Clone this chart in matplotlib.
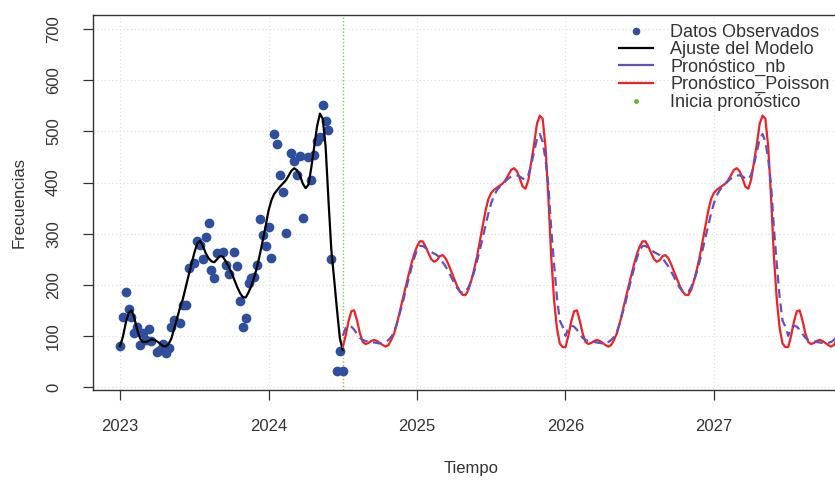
import numpy as np
import matplotlib
matplotlib.use("Agg")
import matplotlib.pyplot as plt

plt.rcParams["font.family"] = ["Liberation Sans", "DejaVu Sans"]

# semanas desde inicio de 2023 (frecuencia 52) y conteos observados
semanas_obs = [0, 1, 2, 3, 4, 5, 6, 7, 8, 9, 10, 11, 13, 14, 15, 16, 17, 18, 19,
               21, 22, 23, 24, 26, 27, 28, 29, 30, 31, 32, 33, 34, 36, 37, 38,
               40, 41, 42, 43, 44, 45, 46, 47, 48, 49, 50, 51, 52, 53, 54, 55,
               56, 57, 58, 60, 61, 62, 63, 64, 66, 67, 68, 69, 70, 71, 72, 73,
               74, 76, 77, 78]
frec_obs = [80, 136, 185, 152, 136, 105, 118, 83, 105, 92, 114, 89, 69, 72, 85,
            66, 76, 118, 131, 125, 161, 161, 232, 242, 285, 278, 251, 293, 320,
            229, 213, 262, 264, 239, 221, 264, 236, 169, 118, 134, 203, 213,
            216, 238, 329, 298, 275, 314, 252, 495, 476, 414, 382, 302, 457,
            443, 415, 452, 331, 450, 405, 454, 482, 489, 552, 521, 502, 251,
            32, 71, 32]

# ajuste del modelo, semanas 0..78
ajuste = [80, 98, 125, 145, 150, 135, 112, 95, 88, 88, 90, 93, 92, 89, 85, 80,
          79, 84, 95, 115, 135, 155, 172, 195, 218, 240, 262, 280, 286, 276,
          262, 252, 246, 244, 250, 256, 255, 246, 236, 224, 210, 196, 184, 176,
          175, 185, 198, 215, 235, 260, 287, 315, 345, 365, 378, 385, 392, 398,
          404, 413, 423, 428, 424, 414, 398, 389, 396, 430, 470, 510, 535, 525,
          470, 365, 268, 210, 150, 95, 72]

# un ciclo (78 semanas) de cada pronostico; se repite en 2026 y 2027.5
ciclo_poisson = [78, 100, 128, 148, 150, 130, 105, 88, 84, 86, 90, 92, 90, 86,
                 82, 79, 82, 92, 105, 125, 148, 172, 195, 218, 240, 260, 275,
                 285, 285, 275, 262, 250, 245, 248, 256, 258, 252, 240, 226,
                 212, 198, 187, 180, 180, 190, 208, 230, 255, 285, 315, 345,
                 368, 380, 386, 390, 394, 398, 405, 415, 425, 428, 422, 408,
                 392, 388, 405, 440, 475, 515, 531, 525, 470, 370, 255, 170,
                 115, 85, 78]
ciclo_nb = [100, 115, 120, 118, 112, 104, 96, 92, 90, 89, 88, 87, 86, 85, 86,
            88, 92, 98, 108, 125, 145, 165, 188, 210, 232, 252, 268, 276, 276,
            272, 268, 264, 261, 258, 252, 244, 236, 226, 215, 204, 194, 187,
            184, 186, 195, 208, 225, 246, 268, 292, 316, 340, 360, 375, 385,
            392, 398, 403, 408, 412, 414, 414, 412, 408, 406, 415, 435, 460,
            485, 495, 480, 445, 395, 310, 240, 175, 130, 118]
n_ciclos = 3
inicio_pron = 78  # semana en que inicia el pronostico

anio0 = 2023
t_obs = anio0 + np.array(semanas_obs) / 52
t_aj = anio0 + np.arange(len(ajuste)) / 52
pron_poisson = np.tile(ciclo_poisson, n_ciclos)
pron_nb = np.tile(ciclo_nb, n_ciclos)
t_pron = anio0 + (inicio_pron + np.arange(len(pron_poisson))) / 52
t_inicio = anio0 + inicio_pron / 52

fig = plt.figure(figsize=(8.35, 4.8), dpi=100)
ax = fig.add_axes([93 / 835, 90 / 480, 757 / 835, 375 / 480])

for y in range(0, 701, 100):
    ax.axhline(y, color="#e0e0e0", lw=0.9, ls=(0, (1, 2)), zorder=0)
for x in range(2023, 2028):
    ax.axvline(x, color="#e0e0e0", lw=0.9, ls=(0, (1, 2)), zorder=0)

azul = "#2d4f9e"
ax.plot(t_obs, frec_obs, "o", color=azul, ms=6, mec=azul, zorder=3)
l_aj, = ax.plot(t_aj, ajuste, color="black", lw=1.6, zorder=4)
l_pois, = ax.plot(t_pron, pron_poisson, color="#ec2227", lw=1.6, zorder=4)
ax.plot(t_pron, pron_nb, color="#6650b8", lw=1.6, dashes=(4, 2.5), zorder=5)
ax.axvline(t_inicio, color="#8cc63f", lw=1.0, ls=(0, (1, 1.5)), zorder=2)

# manejadores solo para la leyenda
l_obs, = ax.plot([], [], "o", color=azul, ms=4.5, lw=0)
l_nb_leg, = ax.plot([], [], color="#6650b8", lw=1.6)
l_ini, = ax.plot([], [], "o", color="#6ab531", ms=2.5, lw=0)

ax.set_xlim(2022.818, 2027.916)
ax.set_ylim(-6, 728)
ax.set_xticks(range(2023, 2028))
ax.set_yticks(range(0, 701, 100))
ax.tick_params(direction="out", length=7, width=0.9, labelsize=12,
               color="#333333", labelcolor="#333333")
ax.tick_params(axis="x", pad=14)
ax.tick_params(axis="y", pad=16)
plt.setp(ax.get_yticklabels(), rotation=90, va="center")
for s in ax.spines.values():
    s.set_color("#333333")
    s.set_linewidth(1.0)

ax.set_xlabel("Tiempo", fontsize=12, color="#333333", labelpad=19)
ax.set_ylabel("Frecuencias", fontsize=12, color="#333333", labelpad=14)

handles = [l_obs, l_aj, l_nb_leg, l_pois, l_ini]
labels = ["Datos Observados", "Ajuste del Modelo", "Pronóstico_nb",
          "Pronóstico_Poisson", "Inicia pronóstico"]
leg = fig.legend(handles, labels, loc="upper left",
                 bbox_to_anchor=(619 / 835, 1 - 24 / 480),
                 frameon=False, fontsize=13, handlelength=1.9,
                 handletextpad=0.95, labelspacing=0.02, borderpad=0,
                 borderaxespad=0)
for txt in leg.get_texts():
    txt.set_color("#333333")

fig.savefig("out.png", dpi=100)
